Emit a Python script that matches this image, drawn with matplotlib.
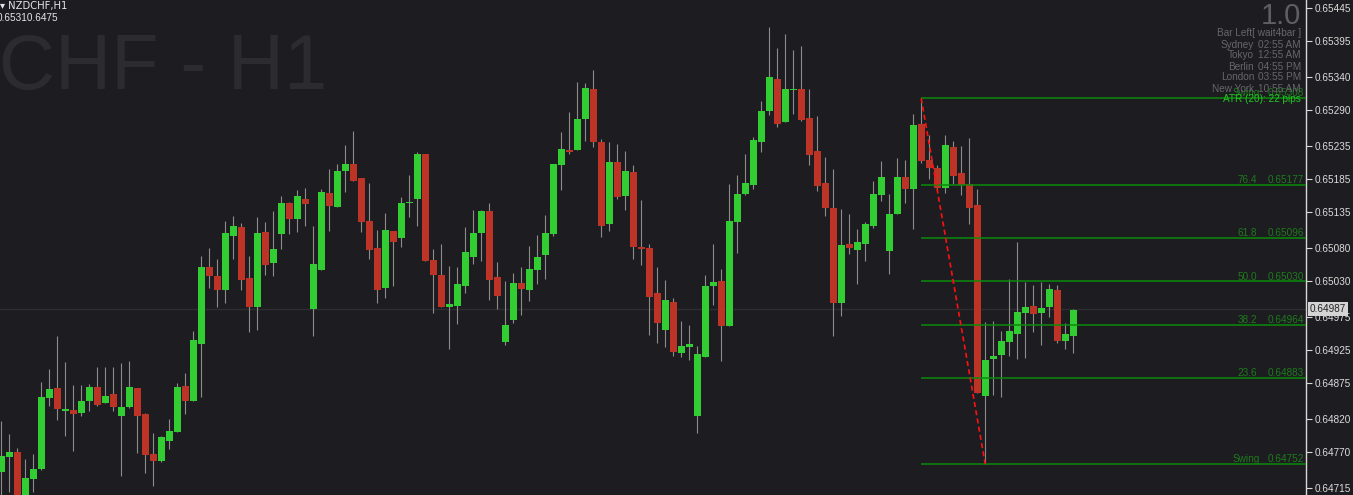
import matplotlib
matplotlib.use("Agg")
import matplotlib.pyplot as plt
import numpy as np

# NZDCHF H1 candles, prices in points (1e-5)
opens = [64740, 64763, 64770, 64702, 64729, 64745, 64853, 64868, 64833, 64834,
         64830, 64847, 64869, 64845, 64858, 64825, 64839, 64868, 64828, 64767,
         64757, 64787, 64800, 64871, 64848, 64935, 65052, 65038, 65016, 65099,
         65112, 65035, 64991, 65105, 65058, 65102, 65149, 65125, 65155, 64987,
         65047, 65164, 65143, 65197, 65208, 65187, 65122, 65080, 65019, 65106,
         65096, 65149, 65155, 65223, 65062, 65039, 64991, 64992, 65023, 65067,
         65103, 65137, 65036, 64938, 64971, 65027, 65017, 65047, 65070, 65102,
         65207, 65230, 65230, 65277, 65322, 65242, 65117, 65211, 65160, 65196,
         65082, 65080, 65012, 64956, 64998, 64921, 64930, 64825, 64915, 65023,
         65030, 64962, 65120, 65163, 65176, 65242, 65289, 65338, 65272, 65321,
         65322, 65278, 65228, 65179, 65141, 64997, 65087, 65077, 65087, 65114,
         65161, 65076, 65132, 65188, 65170, 65269, 65214, 65202, 65172, 65234,
         65195, 65178, 65146, 64855, 64912, 64918, 64938, 64950, 64982, 64992,
         64982, 64991, 65017, 64939, 64947]
closes = [64764, 64770, 64702, 64731, 64744, 64854, 64866, 64836, 64836, 64828,
          64848, 64869, 64842, 64855, 64838, 64839, 64869, 64825, 64765, 64757,
          64793, 64802, 64869, 64848, 64940, 65052, 65038, 65016, 65103, 65114,
          65032, 64991, 65103, 65054, 65079, 65149, 65124, 65160, 65148, 65056,
          65166, 65145, 65198, 65208, 65183, 65120, 65078, 65016, 65108, 65090,
          65149, 65151, 65223, 65060, 65039, 64991, 64995, 65026, 65074, 65103,
          65137, 65032, 65007, 64963, 65027, 65018, 65049, 65067, 65103, 65208,
          65231, 65226, 65277, 65324, 65242, 65114, 65211, 65158, 65198, 65082,
          65079, 65006, 64966, 65001, 64922, 64931, 64934, 64919, 65023, 65029,
          64962, 65122, 65163, 65179, 65245, 65289, 65341, 65269, 65322, 65322,
          65275, 65222, 65175, 65141, 64997, 65085, 65080, 65090, 65117, 65163,
          65188, 65132, 65188, 65170, 65268, 65213, 65202, 65172, 65237, 65190,
          65176, 65141, 64860, 64910, 64916, 64939, 64954, 64983, 64991, 64980,
          64989, 65018, 64939, 64950, 64986]
highs = [64817, 64798, 64776, 64760, 64767, 64877, 64896, 64947, 64907, 64872,
         64872, 64874, 64900, 64900, 64900, 64906, 64909, 64868, 64830, 64799,
         64795, 64820, 64875, 64890, 64954, 65068, 65080, 65064, 65122, 65129,
         65119, 65068, 65128, 65120, 65137, 65160, 65151, 65168, 65172, 65114,
         65170, 65201, 65208, 65237, 65258, 65187, 65179, 65108, 65134, 65106,
         65158, 65192, 65226, 65223, 65079, 65087, 65053, 65052, 65112, 65138,
         65138, 65149, 65059, 65030, 65042, 65052, 65084, 65100, 65131, 65208,
         65257, 65287, 65333, 65331, 65351, 65246, 65242, 65239, 65228, 65207,
         65153, 65087, 65052, 65032, 65004, 64969, 64963, 64931, 65039, 65087,
         65049, 65178, 65192, 65223, 65249, 65304, 65417, 65385, 65406, 65382,
         65388, 65322, 65281, 65219, 65201, 65140, 65132, 65109, 65120, 65182,
         65213, 65163, 65217, 65214, 65284, 65308, 65252, 65207, 65252, 65243,
         65236, 65248, 65170, 64968, 64969, 64954, 65033, 65090, 65029, 65024,
         65029, 65026, 65024, 64966, 64988]
lows = [64697, 64710, 64697, 64694, 64710, 64743, 64840, 64819, 64795, 64771,
        64825, 64833, 64840, 64845, 64833, 64734, 64837, 64768, 64739, 64719,
        64755, 64774, 64800, 64828, 64848, 64854, 65019, 64990, 64997, 65064,
        65016, 64953, 64956, 65040, 65038, 65079, 65102, 65105, 65114, 64947,
        65047, 65107, 65143, 65166, 65183, 65105, 65064, 64997, 65005, 65022,
        65082, 65128, 65114, 65060, 64982, 64990, 64927, 64965, 65012, 65056,
        65061, 65001, 64988, 64933, 64966, 64979, 65000, 65026, 65033, 65099,
        65169, 65223, 65230, 65243, 65234, 65097, 65106, 65155, 65138, 65064,
        65055, 64948, 64936, 64930, 64916, 64915, 64910, 64799, 64915, 64994,
        64909, 64962, 65073, 65161, 65170, 65226, 65283, 65265, 65272, 65284,
        65274, 65207, 65167, 65129, 64947, 64977, 65071, 65026, 65061, 65111,
        65152, 65041, 65132, 65149, 65109, 65210, 65185, 65167, 65164, 65178,
        65161, 65117, 64860, 64752, 64857, 64854, 64916, 64912, 64913, 64953,
        64933, 64976, 64936, 64927, 64921]

# fibonacci retracement between swing high (bar 115) and swing low (bar 123)
fib_names = ["Swing", "76.4", "61.8", "50.0", "38.2", "23.6", "Swing"]
fib_values = [0.65308, 0.65177, 0.65096, 0.65030, 0.64964, 0.64883, 0.64752]
swing_hi_bar, swing_lo_bar = 115, 123

ytick_values = [0.65445, 0.65395, 0.65340, 0.65290, 0.65235, 0.65185, 0.65135,
                0.65080, 0.65030, 0.64975, 0.64925, 0.64875, 0.64820, 0.64770,
                0.64715]
last_price = 0.64987

info_names = ["Sydney", "Tokyo", "Berlin", "London", "New York"]
info_times = ["02:55 AM", "12:55 AM", "04:55 PM", "03:55 PM", "10:55 AM"]

o = np.array(opens) / 1e5
c = np.array(closes) / 1e5
h = np.array(highs) / 1e5
l = np.array(lows) / 1e5
x = np.arange(len(o))

BG = "#1d1d21"
UP = "#32cd32"
DN = "#bd3326"
FONT = "Liberation Sans"
W, H = 1353, 495

fig = plt.figure(figsize=(W / 100, H / 100), dpi=100, facecolor=BG)
ax = fig.add_axes([0, 0, 1306 / W, 1])
ax.set_facecolor(BG)

ax.set_xlim(-0.16, 163.1)
ax.set_ylim(0.647048, 0.654576)

def px(xp, yp):
    return xp / W, 1 - yp / H

def ypix(price):
    return 8.3 + (0.65445 - price) * 65753

# current price line
ax.axhline(last_price, color="#2e2e32", lw=1.0, zorder=1)

# wicks then bodies
ax.vlines(x, l, h, colors="#8c8c8c", lw=0.8, zorder=2)
up = c >= o
bottom = np.minimum(o, c)
height = np.maximum(np.abs(c - o), 0.00002)
ax.bar(x, height, bottom=bottom, width=0.875,
       color=np.where(up, UP, DN), linewidth=0, zorder=3)

# fib lines
ax.hlines(fib_values, swing_hi_bar, 163.1, colors="#0c8a0c", lw=1.1, zorder=4)
for i, (name, val) in enumerate(zip(fib_names, fib_values)):
    yy = ypix(val) - 1.5
    if i == 0:
        yy = 96
    fig.text(*px(1257 if name != "Swing" else 1260, yy), name, ha="right", va="baseline",
             color="#1d7a1d", fontsize=7.2, family=FONT)
    fig.text(*px(1304, yy), "%.5f" % val, ha="right", va="baseline",
             color="#1d7a1d", fontsize=7.2, family=FONT)

# dashed swing line
ax.plot([swing_hi_bar, swing_lo_bar], [h[swing_hi_bar], l[swing_lo_bar]],
        color="#ff1010", lw=1.2, ls=(0, (3, 2)), zorder=5)

# right price axis
for s in ["top", "left", "bottom"]:
    ax.spines[s].set_visible(False)
ax.spines["right"].set_color("#d8d8d8")
ax.spines["right"].set_linewidth(1.0)
ax.set_xticks([])
ax.yaxis.tick_right()
ax.set_yticks(ytick_values)
ax.set_yticklabels(["%.5f" % v for v in ytick_values], family=FONT)
ax.tick_params(axis="y", colors="#d8d8d8", labelcolor="#dcdcdc", length=4,
               width=0.8, pad=2, labelsize=7.2)

fig.text(*px(1310, ypix(last_price)), "%.5f" % last_price, ha="left", va="center",
         fontsize=7.2, color="#222222", family=FONT,
         bbox=dict(boxstyle="square,pad=0.2", fc="#d4d4d4", ec="none"))

# watermark and titles
fig.text(*px(327, 89), "NZDCHF - H1", ha="right", va="baseline", fontsize=56,
         color="#2c2c30", family=FONT)
fig.text(*px(0, 6), "\u25be NZDCHF,H1", ha="left", va="center", fontsize=7.2,
         color="#e6e6e6", family=["DejaVu Sans"])
fig.text(*px(-3, 18), "0.65310.6475", ha="left", va="center", fontsize=7.2,
         color="#e6e6e6", family=FONT)

# info panel
fig.text(*px(1301, 24), "1.0", ha="right", va="baseline", fontsize=21,
         color="#5e5e63", family=FONT)
fig.text(*px(1301, 33), "Bar Left[ wait4bar ]", ha="right", va="center",
         fontsize=7.2, color="#66666b", family=FONT)
for i, (n, t) in enumerate(zip(info_names, info_times)):
    yp = 44.5 + 11 * i
    fig.text(*px(1254, yp), n, ha="right", va="center", fontsize=7.2,
             color="#66666b", family=FONT)
    fig.text(*px(1301, yp), t, ha="right", va="center", fontsize=7.2,
             color="#66666b", family=FONT)
fig.text(*px(1301, 99.5), "ATR (20): 22 pips", ha="right", va="center",
         fontsize=7.2, color="#22c422", family=FONT)

fig.savefig("out.png", dpi=100, facecolor=BG)
